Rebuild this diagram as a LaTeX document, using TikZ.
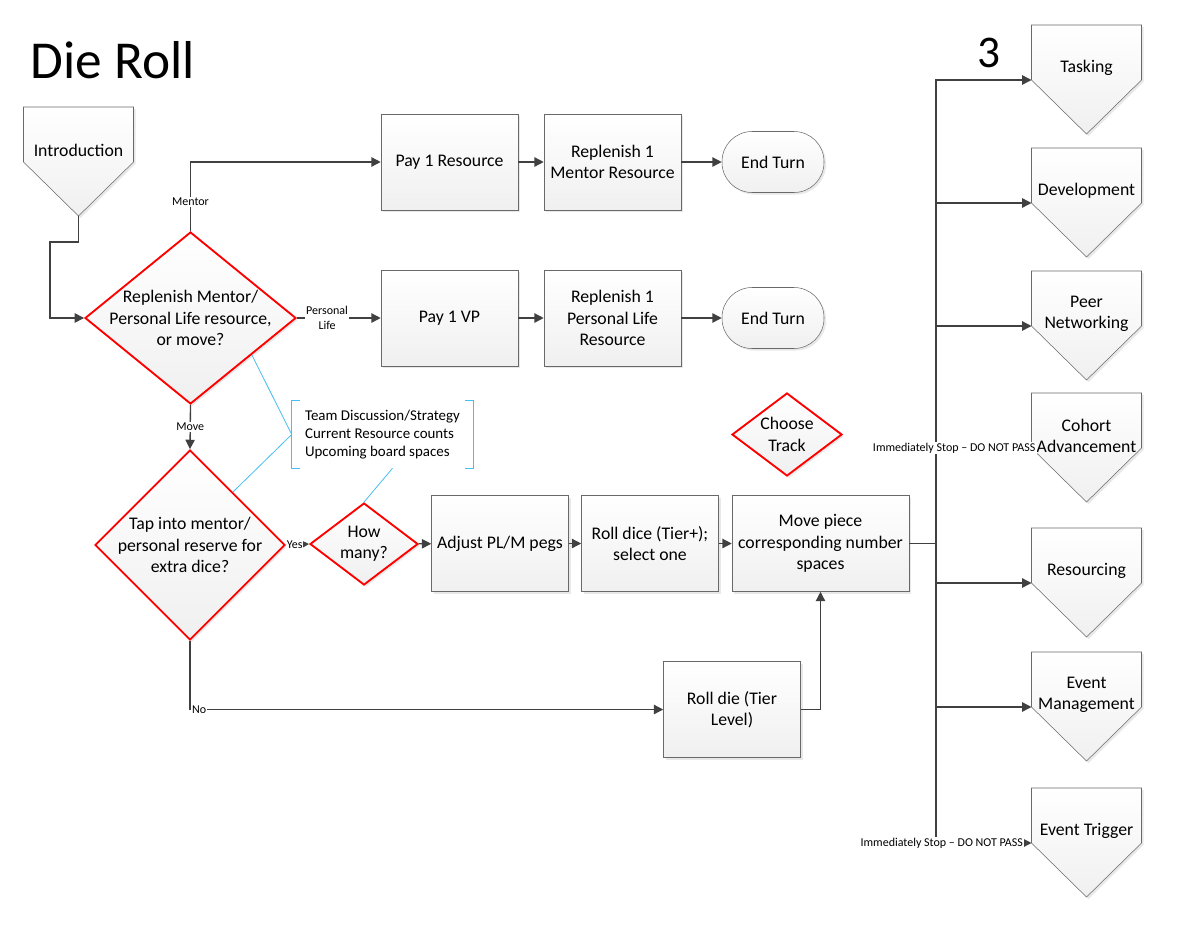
\documentclass[tikz,border=0pt]{standalone}
\usepackage{fontspec}
\setmainfont{Carlito}
\usepackage{tikz}
\usetikzlibrary{arrows.meta, positioning, calc, shapes.geometric, shadows}

\definecolor{flowgray}{RGB}{64,64,64}
\definecolor{boxgray}{RGB}{105,105,105}
\definecolor{noteblue}{RGB}{70,190,240}
\newcommand{\boxfont}{\fontsize{13.3}{16}\selectfont}

\tikzset{
  offpage/.pic={
    \draw[boxgray, top color=white, bottom color=black!6, drop shadow={opacity=0.18, shadow xshift=1.5pt, shadow yshift=-1.5pt}]
      (-55,-55) -- (55,-55) -- (55,0) -- (0,54) -- (-55,0) -- cycle;
    \node[align=center, font=\boxfont] (-text) at (0,-12) {#1};
    \coordinate (-in) at (-55,0);
    \coordinate (-out) at (0,54);
  }
}

\begin{document}
\begin{tikzpicture}[x=0.75pt, y=-0.75pt,
    flow/.style={draw=flowgray, line width=1pt, -{Triangle[length=7pt, width=7pt]}},
    link/.style={draw=flowgray, line width=1pt},
    proc/.style={draw=boxgray, top color=white, bottom color=black!6, align=center, font=\boxfont,
      minimum width=102.75pt, minimum height=72pt, inner sep=2pt,
      drop shadow={opacity=0.18, shadow xshift=1.5pt, shadow yshift=-1.5pt}},
    decision/.style={diamond, draw=red, line width=1.4pt, top color=white, bottom color=black!6, align=center,
      font=\boxfont, inner sep=-20pt,
      drop shadow={opacity=0.18, shadow xshift=1.5pt, shadow yshift=-1.5pt}},
    term/.style={draw=boxgray, top color=white, bottom color=black!6, rounded corners=22.5pt, font=\boxfont,
      minimum width=76.5pt, minimum height=45.75pt,
      drop shadow={opacity=0.18, shadow xshift=1.5pt, shadow yshift=-1.5pt}},
    tag/.style={fill=white, inner sep=1pt, align=center, font=\fontsize{9}{11}\selectfont},
    callout/.style={draw=noteblue, line width=0.6pt}]
    \useasboundingbox (0,0) rectangle (1192,925);

    % Titles
    \node[font=\fontsize{40}{48}\selectfont, anchor=base west] (title) at (26,78) {Die Roll};
    \node[font=\fontsize{34}{40}\selectfont, anchor=base] (three) at (989,67) {3};

    % Start
    \pic (intro) at (78.5,162) {offpage=Introduction};

    % First choice
    \node[decision, minimum width=158.25pt, minimum height=129pt] (rep) at (190.5,318) {Replenish Mentor/\\Personal Life resource,\\or move?};

    % Mentor row
    \node[proc] (pay) at (449.5,162) {Pay 1 Resource};
    \node[proc] (repm) at (612.5,162) {Replenish 1\\Mentor Resource};
    \node[term] (end1) at (773,162) {End Turn};

    % Personal life row
    \node[proc] (payvp) at (449.5,318) {Pay 1 VP};
    \node[proc] (repp) at (612.5,318) {Replenish 1\\Personal Life\\Resource};
    \node[term] (end2) at (773,318) {End Turn};

    % Move row
    \node[decision, minimum width=142.5pt, minimum height=142.5pt] (tap) at (190,545) {Tap into mentor/\\personal reserve for\\extra dice?};
    \node[decision, minimum width=81pt, minimum height=61.5pt] (how) at (364,544) {How\\many?};
    \node[proc] (adj) at (500,543.5) {Adjust PL/M pegs};
    \node[proc] (rolls) at (650,543.5) {Roll dice (Tier+);\\select one};
    \node[proc, minimum width=132.75pt] (move) at (820.5,543.5) {Move piece\\corresponding number\\spaces};
    \node[decision, minimum width=82.5pt, minimum height=62.25pt] (track) at (787,434.5) {Choose\\Track};
    \node[proc] (roll) at (732,709.5) {Roll die (Tier\\Level)};

    % Note
    \node[font=\fontsize{11.2}{13.5}\selectfont, align=left, minimum width=135.75pt, minimum height=50.25pt] (note) at (382.5,434.5) {Team Discussion/Strategy\\Current Resource counts\\Upcoming board spaces};

    % Tracks
    \pic (task) at (1086.5,80) {offpage=Tasking};
    \pic (dev) at (1086.5,203) {offpage=Development};
    \pic (peer) at (1086.5,326) {offpage={Peer\\Networking}};
    \pic (cohort) at (1086.5,448) {offpage={Cohort\\Advancement}};
    \pic (res) at (1086.5,583) {offpage=Resourcing};
    \pic (evm) at (1086.5,707) {offpage={Event\\Management}};
    \pic (evt) at (1086.5,843) {offpage={Event Trigger}};

    % Arrows
    \coordinate (introbend) at (50,242);
    \draw[flow] (intro-out) |- (introbend) |- (rep.west);
    \draw[flow] (rep.north) |- node[tag, pos=0.21] {Mentor} (pay.west);
    \draw[flow] (rep.east) -- node[tag, pos=0.36] {Personal\\Life} (payvp.west);
    \draw[flow] (pay) -- (repm);
    \draw[flow] (repm) -- (end1);
    \draw[flow] (payvp) -- (repp);
    \draw[flow] (repp) -- (end2);
    \draw[flow] (rep.south) -- node[tag] {Move} (tap.north);
    \draw[flow] (tap.east) -- node[tag, inner sep=0.5pt, pos=0.38] {Yes} (how.west);
    \draw[flow] (how) -- (adj);
    \draw[flow] (adj) -- (rolls);
    \draw[flow] (rolls) -- (move);
    \draw[flow] (tap.south) |- node[tag, pos=0.5, anchor=west] {No} (roll.west);
    \draw[flow] (roll.east) -| (move.south);

    % Track branches
    \coordinate (hub) at (936,543.5);
    \draw[link] (move.east) -- (hub);
    \draw[flow] (hub) |- (task-in);
    \draw[flow] (hub) |- (dev-in);
    \draw[flow] (hub) |- (peer-in);
    \draw[flow] (hub) |- node[tag, pos=0.595] {Immediately Stop -- DO NOT PASS} (cohort-in);
    \draw[flow] (hub) |- (res-in);
    \draw[flow] (hub) |- (evm-in);
    \draw[flow] (hub) |- node[tag, pos=0.53] {Immediately Stop -- DO NOT PASS} (evt-in);

    % Note brackets and callouts
    \draw[callout] ($(note.north west)+(8,0)$) -- (note.north west) -- (note.south west) -- ++(8,0);
    \draw[callout] ($(note.north east)+(-8,0)$) -- (note.north east) -- (note.south east) -- ++(-8,0);
    \draw[callout] (note.west) -- (rep.-31);
    \draw[callout] (note.west) -- (tap.51);
    \draw[callout] ($(note.south)+(10,0)$) -- (how.north);
\end{tikzpicture}
\end{document}
